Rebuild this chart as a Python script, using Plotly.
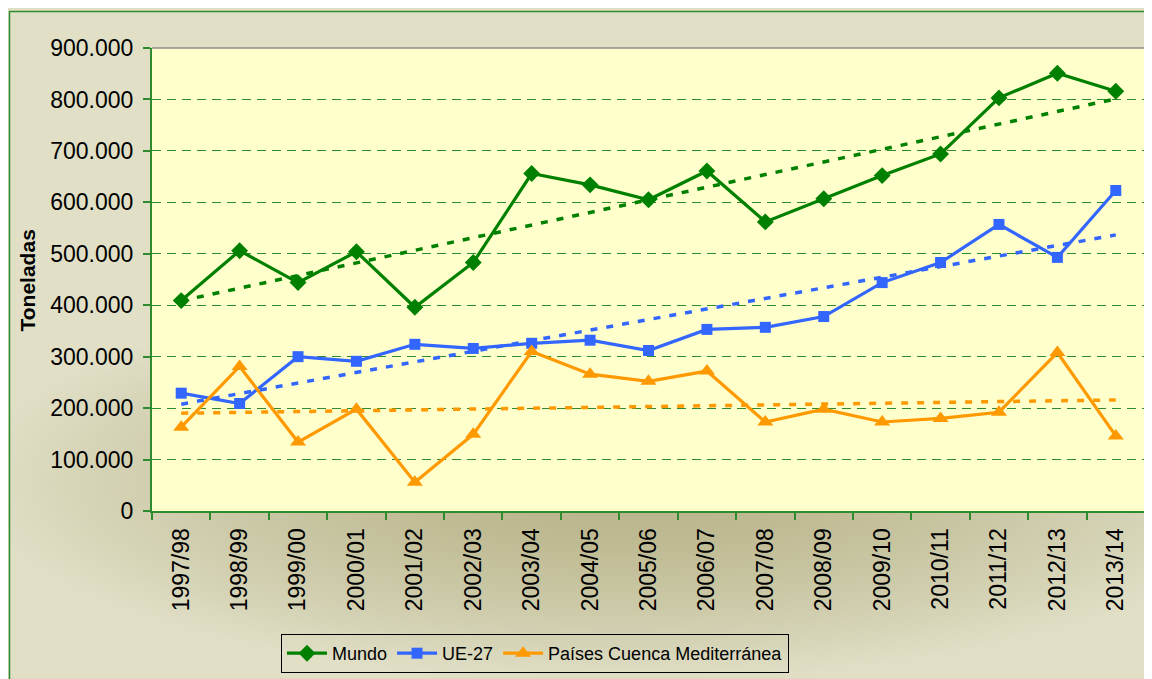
import base64, struct, zlib
import numpy as np
import plotly.graph_objects as go

campanas = ["1997/98", "1998/99", "1999/00", "2000/01", "2001/02", "2002/03",
            "2003/04", "2004/05", "2005/06", "2006/07", "2007/08", "2008/09",
            "2009/10", "2010/11", "2011/12", "2012/13", "2013/14"]
mundo = [409000, 506000, 444000, 504000, 396000, 483000, 656000, 634000, 605000,
         661000, 562000, 607000, 652000, 694000, 803000, 851000, 816000]
ue27 = [229000, 209000, 300000, 291000, 324000, 316000, 326000, 332000, 312000,
        353000, 357000, 378000, 444000, 483000, 557000, 493000, 623000]
mediterranea = [163000, 281000, 134000, 198000, 56000, 149000, 310000, 266000, 252000,
                272000, 173000, 198000, 173000, 180000, 192000, 308000, 146000]
nombres = ["Mundo", "UE-27", "Países Cuenca Mediterránea"]

# page body has an 8px margin: build the figure 8px smaller and offset everything
OFF = 8
W, H = 1152 - OFF, 679 - OFF
L, R, T, B = 152 - OFF, 7, 48 - OFF, 167
PW, PH = W - L - R, H - T - B

# ---- gradient background image (PNG built by hand) ----
def make_png(arr):
    h, w, _ = arr.shape
    raw = b"".join(b"\x00" + arr[i].tobytes() for i in range(h))
    def chunk(tag, data):
        c = struct.pack(">I", len(data)) + tag + data
        return c + struct.pack(">I", zlib.crc32(tag + data) & 0xffffffff)
    png = b"\x89PNG\r\n\x1a\n"
    png += chunk(b"IHDR", struct.pack(">IIBBBBB", w, h, 8, 2, 0, 0, 0))
    png += chunk(b"IDAT", zlib.compress(raw, 9))
    png += chunk(b"IEND", b"")
    return "data:image/png;base64," + base64.b64encode(png).decode()

gw, gh = 286, 168
yy, xx = np.mgrid[0:gh, 0:gw]
px = xx * W / gw + OFF
py = yy * H / gh + OFF
r = np.sqrt(((px - 620) / 650.0) ** 2 + ((py - 480) / 200.0) ** 2)
t = np.clip(r, 0, 1) ** 1.5
dark = np.array([184, 180, 138])
light = np.array([225, 224, 199])
img = (dark[None, None, :] + (light - dark)[None, None, :] * t[..., None]).astype(np.uint8)
src = make_png(img)

def trend(vals):
    idx = np.arange(len(vals))
    a, b = np.polyfit(idx, vals, 1)
    return a * idx + b

fig = go.Figure()
colores = ["#008000", "#3366FF", "#FF9900"]
simbolos = ["diamond", "square", "triangle-up"]
tamanos = [13, 11, 14]
series = [mundo, ue27, mediterranea]

for nom, vals, col, sym, sz in zip(nombres, series, colores, simbolos, tamanos):
    fig.add_trace(go.Scatter(
        x=campanas, y=vals, name=nom, mode="lines+markers",
        line=dict(color=col, width=3.2),
        marker=dict(symbol=sym, size=sz, color=col),
    ))
for nom, vals, col in zip(nombres, series, colores):
    fig.add_trace(go.Scatter(
        x=campanas, y=trend(vals), mode="lines", showlegend=False,
        line=dict(color=col, width=3.5, dash="7px,9px"), hoverinfo="skip",
    ))

def px2x(p):
    return (p - OFF - L) / PW

def px2y(p):
    return (H - B - (p - OFF)) / PH

fig.add_layout_image(dict(
    source=src, xref="paper", yref="paper", x=px2x(OFF), y=px2y(OFF),
    sizex=W / PW, sizey=H / PH, xanchor="left", yanchor="top",
    sizing="stretch", layer="below",
))

shapes = [
    dict(type="rect", xref="paper", yref="paper", x0=0, y0=0, x1=1, y1=1,
         fillcolor="#FFFFCC", line=dict(width=0), layer="below"),
    dict(type="rect", xref="paper", yref="paper", x0=px2x(9.5), y0=px2y(11.5),
         x1=px2x(1152 + 10), y1=px2y(679 + 10), line=dict(color="#2E8B2E", width=1.5),
         layer="below"),
    dict(type="line", xref="paper", yref="paper", x0=0, y0=1, x1=1, y1=1,
         line=dict(color="#8C8C8C", width=1.5)),
    dict(type="line", xref="paper", yref="paper", x0=1, y0=0, x1=1, y1=1,
         line=dict(color="#8C8C8C", width=1.5)),
]

fig.update_layout(
    width=W, height=H,
    margin=dict(l=L, r=R, t=T, b=B),
    paper_bgcolor="#DCDBBE",
    plot_bgcolor="#FFFFCC",
    separators=",.",
    font=dict(family="Liberation Sans, Arial, sans-serif", color="#000000", size=20),
    shapes=shapes,
    showlegend=True,
    legend=dict(
        orientation="h", x=px2x(281), y=px2y(634), xanchor="left", yanchor="top",
        bordercolor="#000000", borderwidth=1, bgcolor="rgba(0,0,0,0)",
        font=dict(size=18),
        itemwidth=40, tracegroupgap=0,
    ),
    xaxis=dict(
        type="category", tickangle=-90, tickson="boundaries",
        ticks="outside", ticklen=7, tickcolor="#2E8B2E", tickwidth=1.5,
        showline=True, linecolor="#2E8B2E", linewidth=2,
        showgrid=False, tickfont=dict(size=23), range=[-0.5, 16.5],
        ticklabelstandoff=6,
    ),
    yaxis=dict(
        range=[0, 900000], dtick=100000, tickformat=",d",
        ticks="outside", ticklen=7, tickcolor="#2E8B2E", tickwidth=1.5,
        showline=True, linecolor="#2E8B2E", linewidth=2,
        showgrid=True, gridcolor="#2E8B2E", gridwidth=1, griddash="9px,6px",
        zeroline=False, tickfont=dict(size=23), ticklabelstandoff=5,
    ),
    annotations=[dict(
        text="<b>Toneladas</b>", xref="paper", yref="paper",
        x=px2x(27), y=px2y(281), xanchor="center", yanchor="middle",
        textangle=-90, showarrow=False, font=dict(size=21),
    )],
)

fig.write_html("out.html")
